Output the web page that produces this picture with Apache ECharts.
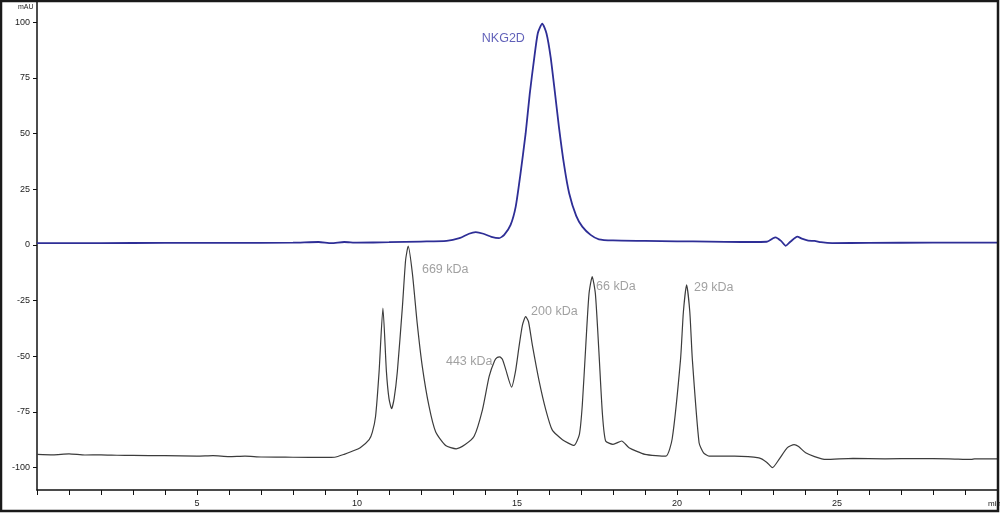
<!DOCTYPE html>
<html>

<head>
  <title>SEC trace</title>
  <style>
    html, body { margin: 0; padding: 0; background: #fff; }
    #chart { width: 1000px; height: 513px; }
  </style>
</head>

<body>
  <div id="chart"></div>
</body>
<script src="https://cdn.jsdelivr.net/npm/echarts@6/dist/echarts.min.js"></script>
<script>
  // 标准品曲线 (min, mAU)
  let std_time = [0, 0.5, 1.0, 1.5, 2.0, 2.5, 3.0, 4.0, 5.0, 5.5, 6.0, 6.5, 7.0, 8.0, 9.0, 9.3, 9.6, 9.85, 10.1, 10.38, 10.48, 10.58, 10.69, 10.81, 10.92, 11.0, 11.08, 11.16, 11.26, 11.42, 11.52, 11.6, 11.73, 11.88, 12.04, 12.25, 12.46, 12.77, 13.1, 13.38, 13.66, 13.92, 14.13, 14.3, 14.38, 14.46, 14.55, 14.65, 14.83, 14.95, 15.06, 15.17, 15.27, 15.36, 15.48, 15.69, 15.9, 16.1, 16.42, 16.78, 16.95, 17.04, 17.15, 17.25, 17.35, 17.45, 17.56, 17.67, 17.77, 18.0, 18.27, 18.5, 19.0, 19.65, 19.85, 20.11, 20.2, 20.3, 20.4, 20.48, 20.69, 20.83, 21.0, 21.8, 22.56, 22.8, 22.98, 23.2, 23.45, 23.66, 23.8, 24.02, 24.3, 24.65, 25.5, 26.5, 27.5, 28.5, 29.2, 29.3, 30]
  let std_vals = [-94.0, -94.2, -93.8, -94.3, -94.2, -94.4, -94.5, -94.6, -94.8, -94.6, -95.0, -94.8, -95.2, -95.3, -95.4, -95.3, -94.0, -92.6, -91.0, -87.4, -84, -77, -57, -28.4, -57, -69, -73.5, -69, -57, -27.6, -6.7, -0.6, -12.7, -35, -54.5, -72.4, -84, -90, -91.5, -89.6, -85.9, -74, -59, -52, -50.5, -50.3, -51.5, -56, -63.8, -57, -46, -36, -32.2, -34.5, -45, -61, -74, -83, -87.4, -90, -85, -72, -45, -22, -14.2, -22, -48, -76, -88, -89.5, -88, -91, -94, -94.8, -87, -51.5, -30, -17.9, -30, -51.5, -88.8, -93.3, -94.8, -94.8, -95.6, -97.5, -100, -96, -91, -89.6, -90.5, -93.3, -95, -96.3, -95.8, -96, -95.9, -96, -96.3, -96, -96]

  // NKG2D 样品曲线
  let nkg_time = [0, 2, 4, 6, 8, 8.8, 9.2, 9.6, 10, 11, 12, 12.8, 13.2, 13.5, 13.71, 13.95, 14.2, 14.44, 14.6, 14.8, 14.96, 15.1, 15.27, 15.4, 15.53, 15.65, 15.79, 15.92, 16.05, 16.18, 16.31, 16.47, 16.63, 16.85, 17.04, 17.3, 17.56, 18, 19, 20, 21, 22, 22.8, 23.0, 23.08, 23.25, 23.4, 23.55, 23.76, 23.9, 24.1, 24.3, 24.5, 24.85, 26, 28, 29, 30]
  let nkg_vals = [0.8, 0.8, 0.9, 0.9, 1.0, 1.3, 0.8, 1.3, 1.0, 1.2, 1.5, 1.8, 3.0, 5.0, 5.7, 5.0, 3.6, 3.0, 4.5, 9, 17.2, 31, 50, 68, 82.9, 95, 99.3, 95, 84.4, 69, 53, 36, 23.2, 13, 8.2, 4.5, 2.5, 2.0, 1.8, 1.6, 1.5, 1.3, 1.4, 3.0, 3.4, 1.8, -0.4, 1.5, 3.7, 2.8, 1.9, 1.8, 1.2, 0.8, 0.9, 1.0, 1.0, 1.0]

  // 峰标注
  let anno_text = ['NKG2D', '669 kDa', '443 kDa', '200 kDa', '66 kDa', '29 kDa']
  let anno_x = [13.9, 12.03, 12.78, 15.44, 17.47, 20.53]
  let anno_y = [92.7, -11.2, -52.4, -30, -18.8, -19.3]
  let anno_color = ['#3a3aa8', '#8a8a8a', '#8a8a8a', '#8a8a8a', '#8a8a8a', '#8a8a8a']

  let y_ticks = [-100, -75, -50, -25, 0, 25, 50, 75, 100]

  let font = "'Liberation Sans Narrow', 'Arial Narrow', 'Liberation Sans', sans-serif"

  let chart = echarts.init(document.getElementById('chart'))

  let zip = (xs, ys) => xs.map((x, i) => [x, ys[i]])

  let option = {
    animation: false,
    grid: { left: 37, right: 3, top: 2, bottom: 23 },
    xAxis: {
      type: 'value',
      min: 0,
      max: 30,
      interval: 1,
      axisLine: { onZero: false, lineStyle: { color: '#111', width: 1.5 } },
      axisTick: { length: 5, lineStyle: { color: '#111' } },
      axisLabel: {
        margin: 9,
        fontSize: 9,
        fontFamily: font,
        color: '#222',
        formatter: (v) => (v % 5 === 0 && v > 0 && v < 30 ? v : ''),
      },
      splitLine: { show: false },
    },
    yAxis: {
      type: 'value',
      min: -110,
      max: 109,
      axisLine: { show: true, onZero: false, lineStyle: { color: '#111', width: 1.5 } },
      axisTick: { show: true, length: 4, customValues: y_ticks, lineStyle: { color: '#111' } },
      axisLabel: { margin: 7, fontSize: 9, fontFamily: font, color: '#222', customValues: y_ticks },
      splitLine: { show: false },
    },
    graphic: [
      {
        type: 'rect',
        shape: { x: 1, y: 1, width: 997, height: 510 },
        style: { fill: 'none', stroke: '#1a1a1a', lineWidth: 2.5 },
        z: 100,
      },
      {
        type: 'text',
        left: 18,
        top: 4,
        style: { text: 'mAU', fontSize: 7, fontFamily: font, fill: '#222' },
      },
      {
        type: 'text',
        left: 988,
        top: 500,
        style: { text: 'min', fontSize: 8, fontFamily: font, fill: '#222' },
      },
    ],
    series: [
      {
        name: 'standards',
        type: 'line',
        showSymbol: false,
        smooth: 0.2,
        lineStyle: { color: '#3c3c3c', width: 1.2 },
        data: zip(std_time, std_vals),
        z: 2,
      },
      {
        name: 'NKG2D',
        type: 'line',
        showSymbol: false,
        smooth: 0.2,
        lineStyle: { color: '#2e2e96', width: 1.8 },
        data: zip(nkg_time, nkg_vals),
        z: 3,
      },
      {
        name: 'labels',
        type: 'scatter',
        symbolSize: 0,
        data: anno_text.map((t, i) => ({
          value: [anno_x[i], anno_y[i]],
          label: {
            show: true,
            position: 'right',
            distance: 0,
            formatter: t,
            fontSize: 12.5,
            fontFamily: font,
            color: anno_color[i],
          },
        })),
        z: 4,
      },
    ],
  }

  chart.setOption(option)
</script>

</html>
